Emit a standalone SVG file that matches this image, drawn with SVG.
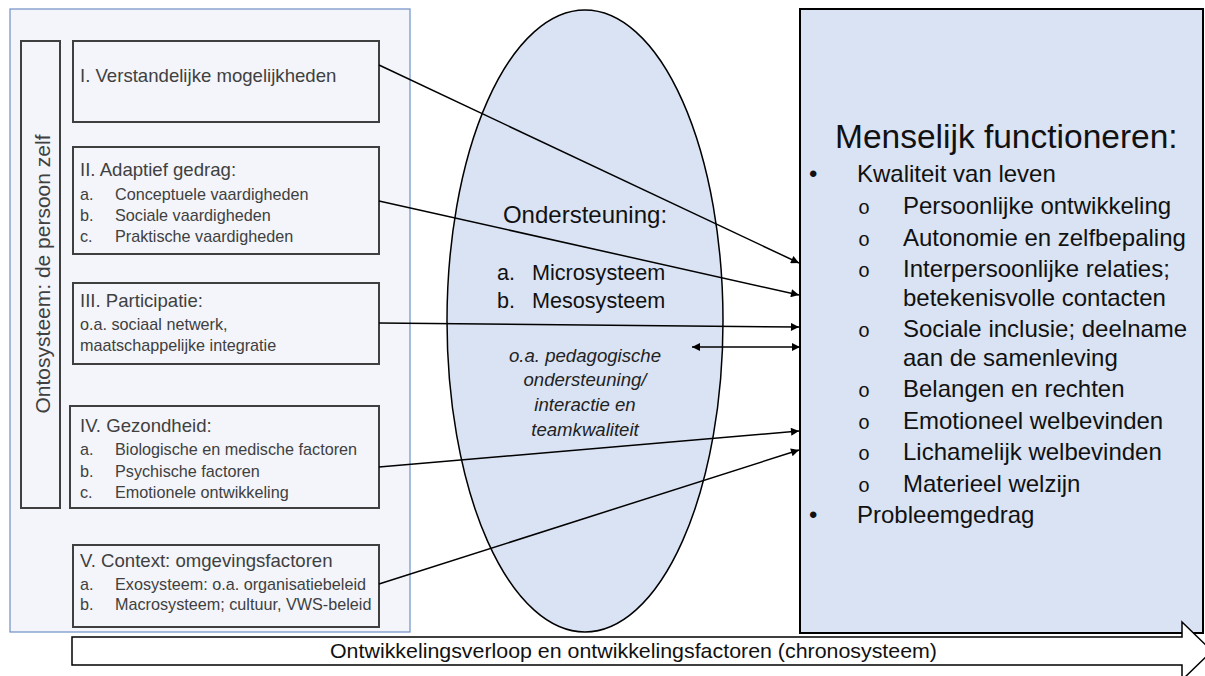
<svg xmlns="http://www.w3.org/2000/svg" width="1205" height="676" viewBox="0 0 1205 676">
<defs>
<style>
.t{font-family:"Liberation Sans",Arial,sans-serif;}
.lb{fill:none;stroke:#3f3f3f;stroke-width:2;}
.lh{font-size:18.6px;fill:#404040;}
.li{font-size:16.2px;fill:#404040;}
.rl{font-size:24px;fill:#111;}
.ov{font-family:"Liberation Mono",monospace;font-size:20px;fill:#111;}
.cn{stroke:#000;stroke-width:1.5;fill:none;}
</style>
<marker id="ah" viewBox="0 0 10 10" refX="10" refY="5" markerWidth="9" markerHeight="8" markerUnits="userSpaceOnUse" orient="auto-start-reverse">
<path d="M0,0 L10,5 L0,10 z" fill="#000"/>
</marker>
</defs>
<rect width="1205" height="676" fill="#fff"/>

<g id="left-container">
<rect x="10" y="9" width="400" height="623" fill="#f3f5fa" stroke="#6f8fc6" stroke-width="1.2"/>
</g>

<g id="ontosysteem">
<rect class="lb" x="21" y="41" width="39" height="467"/>
<text class="t" font-size="21" fill="#404040" text-anchor="middle" transform="translate(50,274) rotate(-90)">Ontosysteem: de persoon zelf</text>
</g>

<g id="box1">
<rect class="lb" x="73" y="41" width="306" height="81"/>
<text class="t lh" x="80" y="82">I. Verstandelijke mogelijkheden</text>
</g>

<g id="box2">
<rect class="lb" x="73" y="147" width="306" height="107"/>
<text class="t lh" x="80" y="176">II. Adaptief gedrag:</text>
<text class="t li" x="80" y="200">a.</text><text class="t li" x="115" y="200">Conceptuele vaardigheden</text>
<text class="t li" x="80" y="221">b.</text><text class="t li" x="115" y="221">Sociale vaardigheden</text>
<text class="t li" x="80" y="242">c.</text><text class="t li" x="115" y="242">Praktische vaardigheden</text>
</g>

<g id="box3">
<rect class="lb" x="73" y="283" width="306" height="81"/>
<text class="t lh" x="80" y="307">III. Participatie:</text>
<text class="t li" x="80" y="330">o.a. sociaal netwerk,</text>
<text class="t li" x="80" y="351">maatschappelijke integratie</text>
</g>

<g id="box4">
<rect class="lb" x="70" y="406" width="309" height="102"/>
<text class="t lh" x="80" y="432">IV. Gezondheid:</text>
<text class="t li" x="80" y="455">a.</text><text class="t li" x="115" y="455">Biologische en medische factoren</text>
<text class="t li" x="80" y="477">b.</text><text class="t li" x="115" y="477">Psychische factoren</text>
<text class="t li" x="80" y="498">c.</text><text class="t li" x="115" y="498">Emotionele ontwikkeling</text>
</g>

<g id="box5">
<rect class="lb" x="73" y="545" width="306" height="82"/>
<text class="t lh" x="80" y="567">V. Context: omgevingsfactoren</text>
<text class="t li" x="80" y="590">a.</text><text class="t li" x="115" y="590">Exosysteem: o.a. organisatiebeleid</text>
<text class="t li" x="80" y="610">b.</text><text class="t li" x="115" y="610">Macrosysteem; cultuur, VWS-beleid</text>
</g>

<g id="ondersteuning">
<ellipse cx="585" cy="321" rx="138" ry="311" fill="#dae3f3" stroke="#000" stroke-width="1.5"/>
<text class="t" x="585" y="223" font-size="24" fill="#111" text-anchor="middle">Ondersteuning:</text>
<text class="t" x="497" y="280" font-size="21.6" fill="#111">a.</text>
<text class="t" x="532" y="280" font-size="21.6" fill="#111">Microsysteem</text>
<text class="t" x="497" y="308" font-size="21.6" fill="#111">b.</text>
<text class="t" x="532" y="308" font-size="21.6" fill="#111">Mesosysteem</text>
<g font-style="italic" font-size="18.6" fill="#222" text-anchor="middle">
<text class="t" x="585" y="362">o.a. pedagogische</text>
<text class="t" x="585" y="386">ondersteuning/</text>
<text class="t" x="585" y="411">interactie en</text>
<text class="t" x="585" y="436">teamkwaliteit</text>
</g>
</g>

<g id="menselijk-functioneren">
<rect x="800" y="9" width="403" height="624" fill="#dae3f3" stroke="#000" stroke-width="2"/>
<text class="t" x="835" y="148" font-size="33.5" fill="#111">Menselijk functioneren:</text>
<text class="t rl" x="809" y="182">•</text><text class="t rl" x="857" y="182">Kwaliteit van leven</text>
<text class="ov" x="858" y="214">o</text><text class="t rl" x="903" y="214">Persoonlijke ontwikkeling</text>
<text class="ov" x="858" y="246">o</text><text class="t rl" x="903" y="246">Autonomie en zelfbepaling</text>
<text class="ov" x="858" y="277">o</text><text class="t rl" x="903" y="277">Interpersoonlijke relaties;</text>
<text class="t rl" x="903" y="306">betekenisvolle contacten</text>
<text class="ov" x="858" y="337">o</text><text class="t rl" x="903" y="337">Sociale inclusie; deelname</text>
<text class="t rl" x="903" y="366">aan de samenleving</text>
<text class="ov" x="858" y="397">o</text><text class="t rl" x="903" y="397">Belangen en rechten</text>
<text class="ov" x="858" y="429">o</text><text class="t rl" x="903" y="429">Emotioneel welbevinden</text>
<text class="ov" x="858" y="460">o</text><text class="t rl" x="903" y="460">Lichamelijk welbevinden</text>
<text class="ov" x="858" y="492">o</text><text class="t rl" x="903" y="492">Materieel welzijn</text>
<text class="t rl" x="809" y="523">•</text><text class="t rl" x="857" y="523">Probleemgedrag</text>
</g>

<g id="chronosysteem">
<path d="M72,637 H1182 V622 L1212,651 L1182,680 V665 H72 Z" fill="#fff" stroke="#000" stroke-width="1.5"/>
<text class="t" x="330" y="658" font-size="21" fill="#111" textLength="607" lengthAdjust="spacingAndGlyphs">Ontwikkelingsverloop en ontwikkelingsfactoren (chronosysteem)</text>
</g>

<g id="connectors">
<line class="cn" x1="379" y1="65" x2="799" y2="263" marker-end="url(#ah)"/>
<line class="cn" x1="379" y1="201" x2="799" y2="295" marker-end="url(#ah)"/>
<line class="cn" x1="379" y1="323" x2="799" y2="327" marker-end="url(#ah)"/>
<line class="cn" x1="692" y1="347" x2="800" y2="347" marker-start="url(#ah)" marker-end="url(#ah)"/>
<line class="cn" x1="379" y1="467" x2="799" y2="431" marker-end="url(#ah)"/>
<line class="cn" x1="379" y1="584" x2="799" y2="450" marker-end="url(#ah)"/>
</g>
</svg>
